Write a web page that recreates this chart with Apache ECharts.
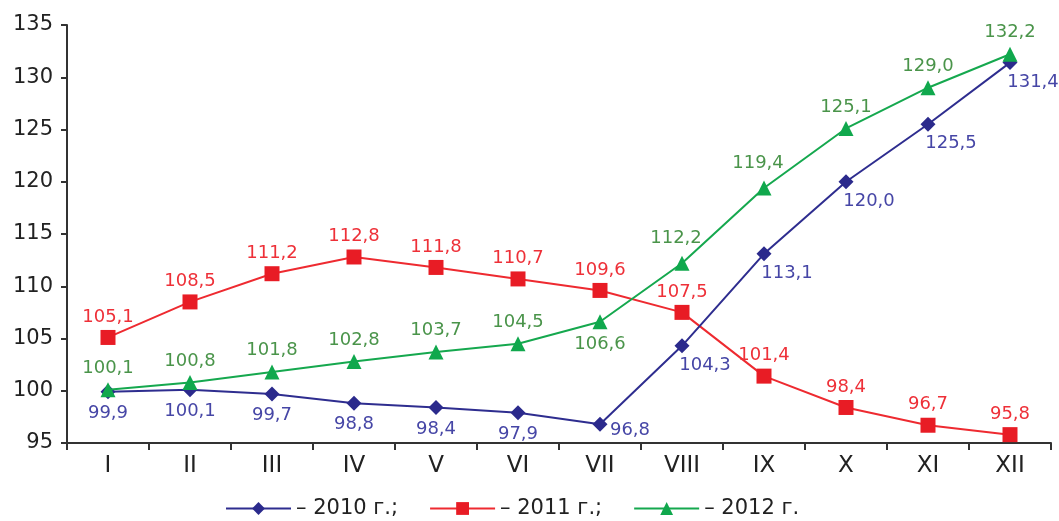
<!DOCTYPE html>
<html>
<head>
<meta charset="utf-8">
<script src="https://cdn.jsdelivr.net/npm/echarts@6/dist/echarts.min.js"></script>
<style>
html,body{margin:0;padding:0;background:#fff;}
#chart{width:1059px;height:521px;}
</style>
</head>
<body>
<div id="chart"></div>
<script>
const categories = ['I','II','III','IV','V','VI','VII','VIII','IX','X','XI','XII'];
const yTicks = [95,100,105,110,115,120,125,130,135];
const values2010 = [99.9,100.1,99.7,98.8,98.4,97.9,96.8,104.3,113.1,120.0,125.5,131.4];
const values2011 = [105.1,108.5,111.2,112.8,111.8,110.7,109.6,107.5,101.4,98.4,96.7,95.8];
const values2012 = [100.1,100.8,101.8,102.8,103.7,104.5,106.6,112.2,119.4,125.1,129.0,132.2];
const seriesNames = ['– 2010 г.;','– 2011 г.;','– 2012 г.'];

const FONT = 'DejaVu Sans';
const fmt = p => p.value.toFixed(1).replace('.', ',');

function build2010() {
  return values2010.map((v, i) => {
    if (i === 6) return {value: v, label: {offset: [30, -15]}};
    if (i > 6) return {value: v, label: {offset: [23, -2]}};
    return v;
  });
}
function build2012() {
  return values2012.map((v, i) => {
    if (i === 6) return {value: v, label: {position: 'bottom', distance: 6}};
    if (i === 7 || i === 8) return {value: v, label: {offset: [-6, -3]}};
    return v;
  });
}

const chart = echarts.init(document.getElementById('chart'), null, {renderer: 'canvas'});
chart.setOption({
  animation: false,
  backgroundColor: '#fff',
  textStyle: {fontFamily: FONT},
  grid: {left: 67, right: 8, top: 25, bottom: 78, containLabel: false},
  legend: {
    left: 220, top: 493,
    itemWidth: 65, itemHeight: 16, itemGap: 31,
    data: seriesNames,
    textStyle: {fontFamily: FONT, fontSize: 21, color: '#222', width: 106, padding: [0,0,0,0]}
  },
  xAxis: {
    type: 'category',
    data: categories,
    boundaryGap: true,
    axisLine: {lineStyle: {color: '#333', width: 2}},
    axisTick: {show: true, length: 7, alignWithLabel: false, lineStyle: {color: '#333', width: 2}},
    axisLabel: {fontFamily: FONT, fontSize: 23, color: '#222', margin: 12}
  },
  yAxis: {
    type: 'value',
    min: yTicks[0], max: yTicks[yTicks.length - 1], interval: 5,
    axisLine: {show: true, lineStyle: {color: '#333', width: 2}},
    axisTick: {show: true, length: 6, lineStyle: {color: '#333', width: 2}},
    splitLine: {show: false},
    axisLabel: {fontFamily: FONT, fontSize: 21, color: '#222', margin: 14}
  },
  series: [
    {
      name: seriesNames[0], type: 'line', data: build2010(),
      symbol: 'diamond', symbolSize: 15,
      lineStyle: {color: '#2e2d8f', width: 2},
      itemStyle: {color: '#2b2a8c'},
      label: {show: true, position: 'bottom', distance: 5, formatter: fmt,
        fontFamily: FONT, fontSize: 18, color: '#4646a6'},
      z: 3
    },
    {
      name: seriesNames[1], type: 'line', data: values2011,
      symbol: 'rect', symbolSize: 15,
      lineStyle: {color: '#ee2a30', width: 2},
      itemStyle: {color: '#e81c25'},
      label: {show: true, position: 'top', distance: 4, formatter: fmt,
        fontFamily: FONT, fontSize: 18, color: '#ee3038'},
      z: 2
    },
    {
      name: seriesNames[2], type: 'line', data: build2012(),
      symbol: 'triangle', symbolSize: 15,
      lineStyle: {color: '#15a84e', width: 2},
      itemStyle: {color: '#10a84d'},
      label: {show: true, position: 'top', distance: 5, formatter: fmt,
        fontFamily: FONT, fontSize: 18, color: '#4a944a'},
      z: 4
    }
  ]
});
</script>
</body>
</html>
